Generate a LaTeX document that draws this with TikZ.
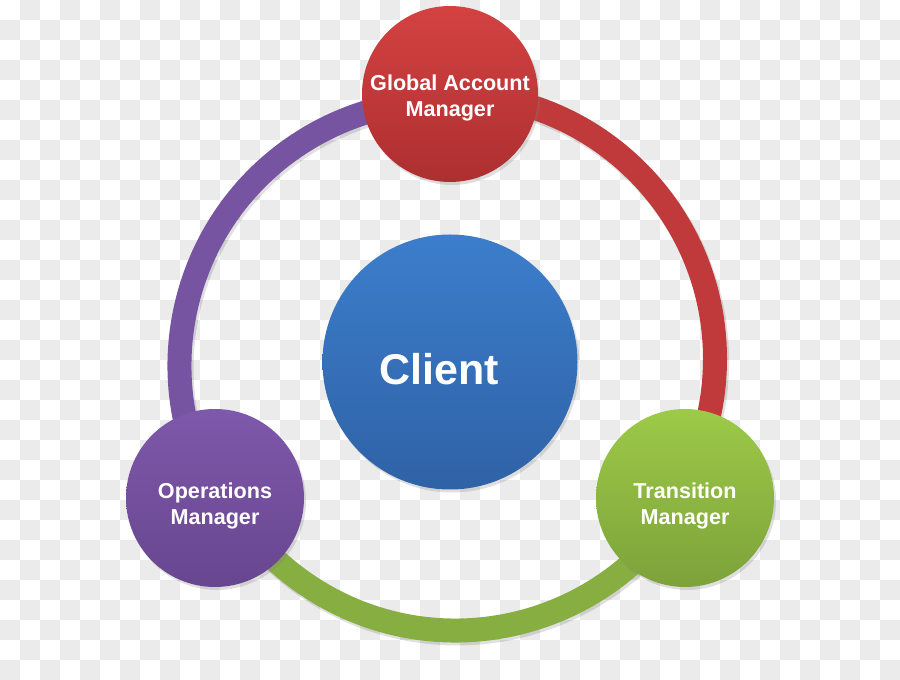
\documentclass[tikz,border=0pt]{standalone}
\usepackage{fontspec}
\setmainfont{Liberation Sans}
\usetikzlibrary{shadows, backgrounds}
\definecolor{checker}{HTML}{EBEBEB}
\definecolor{redtop}{HTML}{D44242}
\definecolor{redbot}{HTML}{AD2F30}
\definecolor{redring}{HTML}{C13A3B}
\definecolor{greentop}{HTML}{9DCA48}
\definecolor{greenbot}{HTML}{7CA23A}
\definecolor{greenring}{HTML}{86AE40}
\definecolor{purpletop}{HTML}{7E58AB}
\definecolor{purplebot}{HTML}{68468F}
\definecolor{purplering}{HTML}{7754A2}
\definecolor{bluetop}{HTML}{3C7ECC}
\definecolor{bluebot}{HTML}{2F62A6}
\newcommand{\lift}[1][12pt]{\rule{0pt}{#1}}

\begin{document}
\begin{tikzpicture}[x=0.5pt, y=0.5pt,
    disc/.style={circle, minimum size=89pt, inner sep=0pt, align=center, text=white,
      drop shadow={opacity=0.25, shadow xshift=1pt, shadow yshift=-1.5pt}},
    role/.style={disc, font=\bfseries\fontsize{10.8}{13}\selectfont},
    band/.style={line width=12pt},
    bandshade/.style={line width=12.5pt, black, opacity=0.12, transform canvas={xshift=0.8pt, yshift=-1.2pt}}]
    \useasboundingbox (0,0) rectangle (900,680);
    \node[role, minimum size=88pt, top color=redtop, bottom color=redbot] (gam) at (450,586) {\lift Global Account\\Manager};
    \node[role, top color=purpletop, bottom color=purplebot] (ops) at (215,182) {\lift[16pt]Operations\\Manager};
    \node[role, top color=greentop, bottom color=greenbot] (trans) at (685,182) {\lift[16pt]Transition\\Manager};
    \node[disc, minimum size=127.5pt, top color=bluetop, bottom color=bluebot, font=\bfseries\fontsize{21.5}{26}\selectfont] (client) at (450,318) {\raisebox{-11.2pt}[0pt][0pt]{Client}\hspace{11pt}};
    \begin{scope}[on background layer]
      \foreach \i in {0,...,44} \foreach \j in {0,...,33} {
        \pgfmathtruncatemacro\odd{mod(\i+\j,2)}
        \ifnum\odd=1 \fill[checker] (20*\i,660-20*\j) rectangle ++(20,20); \fi
      }
      \draw[bandshade] (gam.center) arc[start angle=90, end angle=-30, radius=132.5pt];
      \draw[bandshade] (trans.center) arc[start angle=-30, end angle=-150, radius=132.5pt];
      \draw[bandshade] (ops.center) arc[start angle=210, end angle=90, radius=132.5pt];
      \draw[band, redring] (gam.center) arc[start angle=90, end angle=-30, radius=132.5pt];
      \draw[band, greenring] (trans.center) arc[start angle=-30, end angle=-150, radius=132.5pt];
      \draw[band, purplering] (ops.center) arc[start angle=210, end angle=90, radius=132.5pt];
    \end{scope}
  \end{tikzpicture}
\end{document}
